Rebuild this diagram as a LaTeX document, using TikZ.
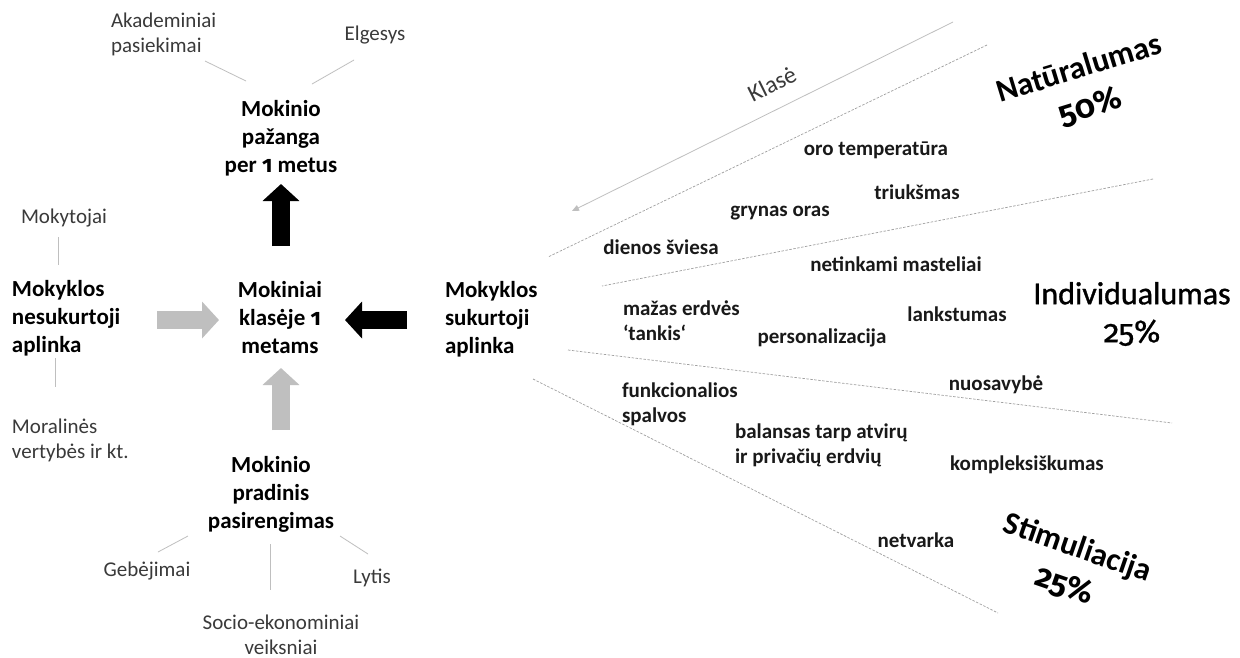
\documentclass[tikz,border=0pt]{standalone}
\usepackage{fontspec}
\setmainfont{Carlito}[Numbers=OldStyle]
\newfontfamily\onumfam{Fira Sans}[Numbers=OldStyle]
\newfontfamily\semifam{Carlito}[FakeBold=1.1]
\newfontfamily\semionum{Fira Sans}[Numbers=OldStyle,FakeBold=0.6]
\newcommand\od[1]{{\onumfam #1}}
\usetikzlibrary{arrows.meta}
\definecolor{thin}{HTML}{BFBFBF}
\definecolor{dashc}{HTML}{A0A0A0}
\definecolor{smalltxt}{HTML}{3A3A3A}
\definecolor{blockgray}{HTML}{BFBFBF}
\tikzset{
  every node/.style={inner sep=0pt, outer sep=0pt},
  smalllbl/.style={font=\fontsize{21}{25}\selectfont, text=smalltxt},
  mainlbl/.style={font=\bfseries\fontsize{23}{28}\selectfont, align=center},
  factor/.style={font=\bfseries\fontsize{21}{25}\selectfont, text=black!90},
  biglbl/.style={font=\bfseries\fontsize{32}{40}\selectfont, align=center},
  thinline/.style={draw=thin, line width=0.8pt},
  dashline/.style={draw=dashc, line width=0.7pt, dash pattern=on 2.5pt off 1.5pt},
  blockarrow/.style={draw=#1, line width=17.5pt, -{Triangle[length=17pt,width=36pt,fill=#1]}}
}
\begin{document}
\begin{tikzpicture}[x=1pt,y=-1pt]
\useasboundingbox (0,0) rectangle (1240,657);
\fill[white] (0,0) rectangle (1240,657);

% ---------- left part ----------
\node[smalllbl, anchor=west, align=left] (akad) at (111,34.5) {Akademiniai\\pasiekimai};
\node[smalllbl] (elg) at (375,35) {Elgesys};
\node[mainlbl] (prog) at (281,138) {Mokinio\\pažanga\\per \od{1} metus};
\node[smalllbl] (moky) at (64,218) {Mokytojai};
\node[mainlbl, anchor=west, align=left] (nesuk) at (12,318) {Mokyklos\\nesukurtoji\\aplinka};
\node[mainlbl] (klas) at (280,318) {Mokiniai\\klasėje \od{1}\\metams};
\node[mainlbl, anchor=west, align=left] (suk) at (445,319) {Mokyklos\\sukurtoji\\aplinka};
\node[smalllbl, anchor=west, align=left] (moral) at (12,440) {Moralinės\\vertybės ir kt.};
\node[mainlbl] (prad) at (271,494) {Mokinio\\pradinis\\pasirengimas};
\node[smalllbl] (geb) at (147,571) {Gebėjimai};
\node[smalllbl] (lyt) at (372,578) {Lytis};
\node[smalllbl, align=center] (socio) at (281,634.5) {Socio-ekonominiai\\veiksniai};

% thin connector ends
\coordinate (akadE) at (205,61);  \coordinate (progA) at (246,81);
\coordinate (elgE)  at (354,60);  \coordinate (progB) at (312,84);
\coordinate (mokyE) at (58,237);  \coordinate (nesukT) at (58,265);
\coordinate (nesukB) at (55,358); \coordinate (moralE) at (55,387);
\coordinate (pradA) at (188,536); \coordinate (gebE) at (158,552);
\coordinate (pradB) at (270,544); \coordinate (socioE) at (270,590);
\coordinate (pradC) at (340,536); \coordinate (lytE) at (368,554);
\draw[thinline] (akadE) -- (progA);
\draw[thinline] (elgE) -- (progB);
\draw[thinline] (mokyE) -- (nesukT);
\draw[thinline] (nesukB) -- (moralE);
\draw[thinline] (pradA) -- (gebE);
\draw[thinline] (pradB) -- (socioE);
\draw[thinline] (pradC) -- (lytE);

% block arrows
\coordinate (upT) at (281,246);  \coordinate (upH) at (281,184);
\coordinate (rT) at (157,320);   \coordinate (rH) at (219,320);
\coordinate (lT) at (407,320);   \coordinate (lH) at (345,320);
\coordinate (u2T) at (281,430);  \coordinate (u2H) at (281,368);
\draw[blockarrow=black] (upT) -- (upH);
\draw[blockarrow=blockgray] (rT) -- (rH);
\draw[blockarrow=black] (lT) -- (lH);
\draw[blockarrow=blockgray] (u2T) -- (u2H);

% ---------- right part ----------
\coordinate (klA) at (953,22);  \coordinate (klB) at (572,211);
\draw[thinline, -{Triangle[length=7pt,width=6pt,fill=thin]}] (klA) -- (klB);
\node[font=\fontsize{24}{25}\selectfont, text=smalltxt, rotate=26.4] (klase) at (772,84) {Klasė};

\coordinate (d1a) at (987,45);   \coordinate (d1b) at (548,257);
\coordinate (d2a) at (1153,179); \coordinate (d2b) at (602,286);
\coordinate (d3a) at (568,350);  \coordinate (d3b) at (1172,423);
\coordinate (d4a) at (533,379);  \coordinate (d4b) at (998,613);
\draw[dashline] (d1a) -- (d1b);
\draw[dashline] (d2a) -- (d2b);
\draw[dashline] (d3a) -- (d3b);
\draw[dashline] (d4a) -- (d4b);

\node[factor] (oro) at (876,150) {oro temperatūra};
\node[factor] (triuk) at (917,192) {triukšmas};
\node[factor] (gryn) at (780,213) {grynas oras};
\node[factor] (dien) at (661,247) {dienos šviesa};
\node[factor] (netink) at (896,264) {netinkami masteliai};
\node[factor, anchor=west, align=left] (maz) at (623,320.5) {mažas erdvės\\‘tankis‘};
\node[factor] (pers) at (822,338) {personalizacija};
\node[factor] (lank) at (957,314) {lankstumas};
\node[factor] (nuos) at (996,385) {nuosavybė};
\node[factor, anchor=west, align=left] (funk) at (622,404.5) {funkcionalios\\spalvos};
\node[factor, anchor=west, align=left] (bal) at (735,445.5) {balansas tarp atvirų\\ir privačių erdvių};
\node[factor] (komp) at (1027,465) {kompleksiškumas};
\node[factor] (netv) at (916,540) {netvarka};

\node[biglbl, rotate=17] (nat) at (1085,88) {Natūralumas\\\od{50\%}};
\node[font=\semifam\fontsize{32}{38}\selectfont, align=center] (ind) at (1132,314) {Individualumas\\{\semionum 25\%}};
\node[biglbl, rotate=-19] (stim) at (1071,567) {Stimuliacija\\\od{25\%}};
\end{tikzpicture}
\end{document}
